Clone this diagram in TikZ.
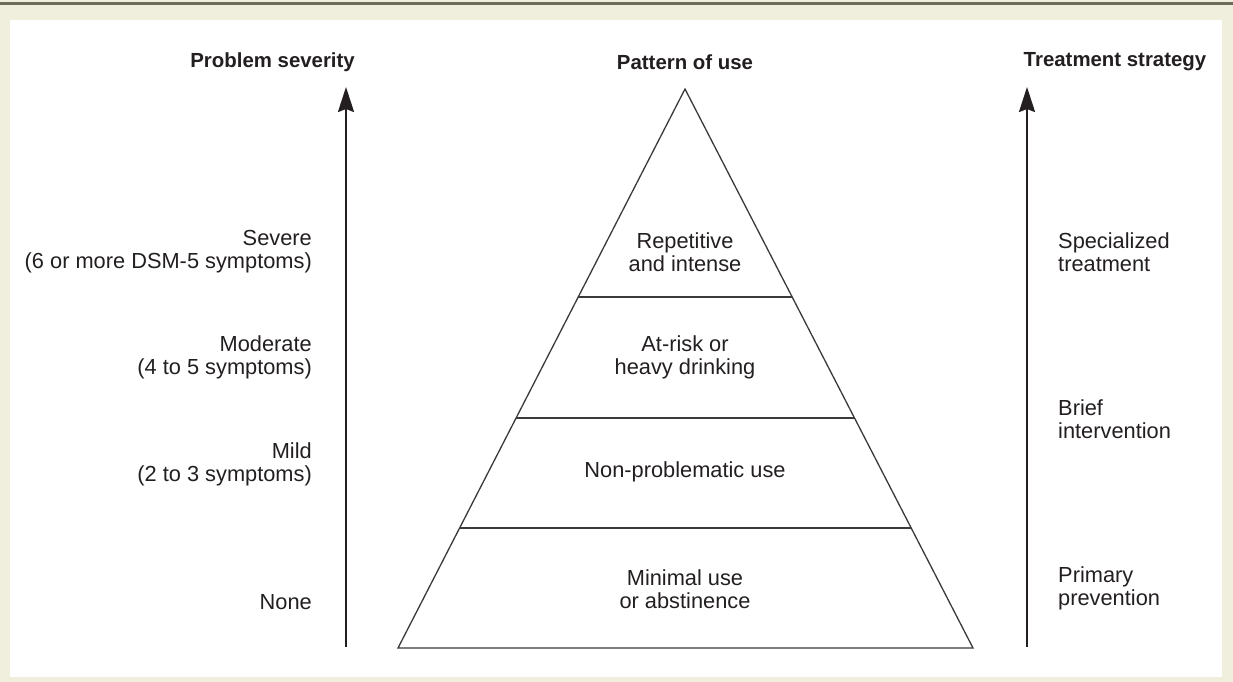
\documentclass[tikz,border=0pt]{standalone}
\usepackage{fontspec}
\setmainfont{Liberation Sans}
\usetikzlibrary{arrows.meta,calc}
\definecolor{bgbeige}{HTML}{F0EEDC}
\definecolor{rulecol}{HTML}{6E6B5A}
\definecolor{inkcol}{HTML}{231F20}
\definecolor{linecol}{HTML}{3A3A3A}
\tikzset{
  lbl/.style={inner sep=0pt, text=inkcol, font=\fontsize{21.8}{23}\selectfont},
  lbll/.style={lbl, anchor=east, align=right},
  lblr/.style={lbl, anchor=west, align=left},
  lblc/.style={lbl, align=center},
  head/.style={inner sep=0pt, text=inkcol, font=\fontsize{20.4}{23}\selectfont\bfseries},
  axis/.style={draw=inkcol, line width=2.2pt, -{Stealth[length=25pt,width=16pt,inset=3pt]}},
  pyr/.style={draw=linecol, line width=1.3pt, line join=miter},
  level/.style={draw=linecol, line width=1.3pt}
}
\begin{document}
\begin{tikzpicture}[x=1pt,y=-1pt]
\useasboundingbox (0,0) rectangle (1233,682);
\fill[bgbeige] (0,0) rectangle (1233,682);
\fill[white] (10,20) rectangle (1222,677);
\fill[rulecol] (0,2.5) rectangle (1233,4.8);

% headings
\node[head, anchor=east] (hsev) at (355,62) {Problem severity};
\node[head] (hpat) at (685,62) {Pattern of use};
\node[head] (htre) at (1115,62) {Treatment strategy};

% axes
\coordinate (lbot) at (346,647);
\coordinate (ltop) at (346,87);
\coordinate (rbot) at (1027,647);
\coordinate (rtop) at (1027,87);
\draw[axis] (lbot) -- (ltop);
\draw[axis] (rbot) -- (rtop);

% pyramid
\coordinate (apex) at (685,89);
\coordinate (bl) at (398,648);
\coordinate (br) at (973,648);
\draw[pyr] (apex) -- (bl) -- (br) -- cycle;
\draw[level] ($(apex)!0.372!(bl)$) coordinate (l1a) -- ($(apex)!0.372!(br)$) coordinate (l1b);
\draw[level] ($(apex)!0.5886!(bl)$) coordinate (l2a) -- ($(apex)!0.5886!(br)$) coordinate (l2b);
\draw[level] ($(apex)!0.7853!(bl)$) coordinate (l3a) -- ($(apex)!0.7853!(br)$) coordinate (l3b);

% left labels
\node[lbll] (sev) at (312,252) {Severe\\(6 or more DSM-5 symptoms)};
\node[lbll] (mod) at (312,357) {Moderate\\(4 to 5 symptoms)};
\node[lbll] (mild) at (312,464) {Mild\\(2 to 3 symptoms)};
\node[lbll] (none) at (312,602) {None};

% pyramid labels
\node[lblc] (rep) at (685,252) {Repetitive\\and intense};
\node[lblc] (risk) at (685,357) {At-risk or\\heavy drinking};
\node[lblc] (nonp) at (685,472) {Non-problematic use};
\node[lblc] (minu) at (685,589) {Minimal use\\or abstinence};

% right labels
\node[lblr] (spec) at (1058,252) {Specialized\\treatment};
\node[lblr] (brief) at (1058,419) {Brief\\intervention};
\node[lblr] (prim) at (1058,588) {Primary\\prevention};
\end{tikzpicture}
\end{document}
